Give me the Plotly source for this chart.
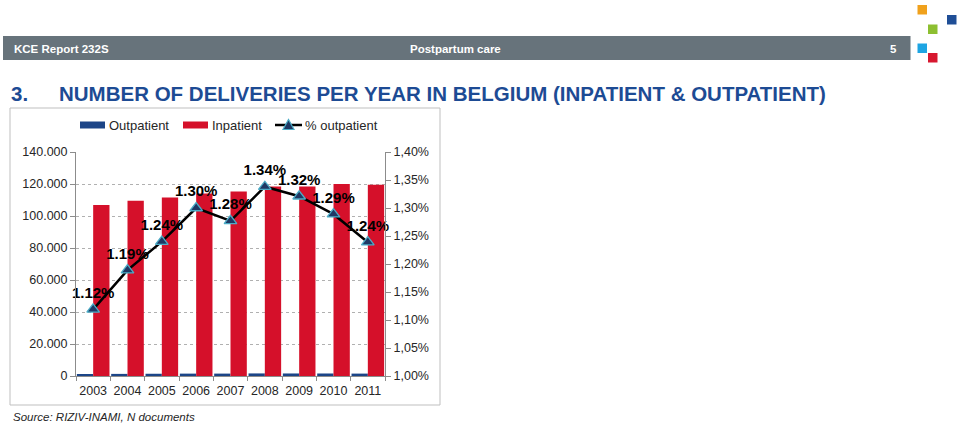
import plotly.graph_objects as go

# ---------------- data ----------------
years = ["2003", "2004", "2005", "2006", "2007", "2008", "2009", "2010", "2011"]
inpatient = [106800, 109500, 111500, 114000, 115300, 118400, 118400, 120000, 119600]
outpatient = [1210, 1320, 1400, 1490, 1500, 1610, 1580, 1570, 1500]
pct_outpatient = [1.119, 1.189, 1.240, 1.300, 1.277, 1.338, 1.321, 1.289, 1.239]

left_tickvals = [0, 20000, 40000, 60000, 80000, 100000, 120000, 140000]
left_ticktext = ["0", "20.000", "40.000", "60.000", "80.000", "100.000", "120.000", "140.000"]
right_tickvals = [1.00, 1.05, 1.10, 1.15, 1.20, 1.25, 1.30, 1.35, 1.40]
right_ticktext = ["1,00%", "1,05%", "1,10%", "1,15%", "1,20%", "1,25%", "1,30%", "1,35%", "1,40%"]

# ---------------- layout geometry (pixels) ----------------
W, H = 960, 424
L, R, T, B = 76, 385, 152, 376
PW, PH = R - L, B - T


def px(x):
    return (x - L) / PW


def py(y):
    return (B - y) / PH


FONT = "Liberation Sans, Arial, sans-serif"
BLUE = "#1c4587"
RED = "#d5102a"
AXIS = "#8c8c8c"
TXT = "#262626"

fig = go.Figure()
fig.add_trace(go.Bar(x=years, y=outpatient, name="Outpatient", marker=dict(color=BLUE, line=dict(width=0))))
fig.add_trace(go.Bar(x=years, y=inpatient, name="Inpatient", marker=dict(color=RED, line=dict(width=0))))
fig.add_trace(go.Scatter(
    x=years, y=pct_outpatient, yaxis="y2", name="% outpatient",
    mode="lines+markers+text",
    line=dict(color="black", width=2.5),
    marker=dict(symbol="triangle-up", size=11, color="#1f3864", line=dict(color="#4bacc6", width=1.3)),
    text=[f"{v:.2f}%" for v in pct_outpatient],
    textposition="top center",
    textfont=dict(family=FONT, size=15, color="black", weight="bold"),
    cliponaxis=False,
))

shapes = []
annotations = []

# header bar
shapes.append(dict(type="rect", xref="paper", yref="paper", x0=px(3), x1=px(910.5), y0=py(60), y1=py(36),
                   fillcolor="#67737b", line=dict(width=0), layer="above"))
for txt, x, anchor in [("KCE Report 232S", 12, "left"), ("Postpartum care", 408, "left"), ("5", 893, "center")]:
    annotations.append(dict(text=txt, xref="paper", yref="paper", x=px(x), y=py(48.5), xanchor=anchor,
                            yanchor="middle", showarrow=False,
                            font=dict(family=FONT, size=11.5, color="white", weight="bold")))

# logo squares
for (x0, y0, c) in [(917.5, 5, "#f0a11c"), (947, 15, "#1f4e96"), (928, 24.5, "#8dbf31"),
                    (917.5, 43.5, "#1ea5e3"), (928, 53, "#d7172f")]:
    shapes.append(dict(type="rect", xref="paper", yref="paper", x0=px(x0), x1=px(x0 + 9.5),
                       y0=py(y0 + 9.5), y1=py(y0), fillcolor=c, line=dict(width=0), layer="above"))

# title
TITLE_C = "#1d4b94"
annotations.append(dict(text="3.", xref="paper", yref="paper", x=px(9), y=py(93.5), xanchor="left",
                        yanchor="middle", showarrow=False,
                        font=dict(family=FONT, size=20.5, color=TITLE_C, weight="bold")))
annotations.append(dict(text="NUMBER OF DELIVERIES PER YEAR IN BELGIUM (INPATIENT &amp; OUTPATIENT)",
                        xref="paper", yref="paper", x=px(57), y=py(93.5), xanchor="left",
                        yanchor="middle", showarrow=False,
                        font=dict(family=FONT, size=20.5, color=TITLE_C, weight="bold")))

# chart frame
shapes.append(dict(type="rect", xref="paper", yref="paper", x0=px(10), x1=px(440), y0=py(405), y1=py(108),
                   line=dict(color="#bfbfbf", width=1), fillcolor="rgba(0,0,0,0)", layer="below"))

# manual legend
LY = 125
shapes.append(dict(type="rect", xref="paper", yref="paper", x0=px(80), x1=px(105), y0=py(LY + 3.5),
                   y1=py(LY - 3.5), fillcolor=BLUE, line=dict(width=0)))
annotations.append(dict(text="Outpatient", xref="paper", yref="paper", x=px(106.5), y=py(LY), xanchor="left",
                        yanchor="middle", showarrow=False, font=dict(family=FONT, size=13, color=TXT)))
shapes.append(dict(type="rect", xref="paper", yref="paper", x0=px(183), x1=px(208), y0=py(LY + 3.5),
                   y1=py(LY - 3.5), fillcolor=RED, line=dict(width=0)))
annotations.append(dict(text="Inpatient", xref="paper", yref="paper", x=px(209.5), y=py(LY), xanchor="left",
                        yanchor="middle", showarrow=False, font=dict(family=FONT, size=13, color=TXT)))
shapes.append(dict(type="line", xref="paper", yref="paper", x0=px(275), x1=px(302), y0=py(LY), y1=py(LY),
                   line=dict(color="black", width=2.5)))
shapes.append(dict(type="path", xref="paper", yref="paper",
                   path=f"M {px(283)} {py(LY + 4.5)} L {px(294)} {py(LY + 4.5)} L {px(288.5)} {py(LY - 5.5)} Z",
                   fillcolor="#1f3864", line=dict(color="#4bacc6", width=1.2)))
annotations.append(dict(text="% outpatient", xref="paper", yref="paper", x=px(303), y=py(LY), xanchor="left",
                        yanchor="middle", showarrow=False, font=dict(family=FONT, size=13, color=TXT)))

# source
annotations.append(dict(text="<i>Source: RIZIV-INAMI, N documents</i>", xref="paper", yref="paper",
                        x=px(11), y=py(417), xanchor="left", yanchor="middle", showarrow=False,
                        font=dict(family=FONT, size=11.5, color=TXT)))

fig.update_layout(
    width=W, height=H,
    margin=dict(l=L, r=W - R, t=T, b=H - B, pad=0),
    paper_bgcolor="white", plot_bgcolor="white",
    barmode="group", bargap=0.05, bargroupgap=0,
    showlegend=False,
    font=dict(family=FONT, size=12.5, color=TXT),
    xaxis=dict(type="category", range=[-0.5, 8.5], showline=True, linecolor=AXIS, linewidth=1,
               ticks="outside", tickson="boundaries", ticklen=4, tickcolor=AXIS, tickangle=0,
               ticklabelstandoff=3,
               tickfont=dict(size=12.5, color=TXT), showgrid=False, zeroline=False),
    yaxis=dict(range=[0, 140000], tickvals=left_tickvals, ticktext=left_ticktext,
               showline=True, linecolor=AXIS, linewidth=1, ticks="outside", ticklen=5, tickcolor=AXIS,
               showgrid=True, gridcolor="#b0b0b0", griddash="dot", gridwidth=1, zeroline=False,
               tickfont=dict(size=12.5, color=TXT)),
    yaxis2=dict(range=[1.0, 1.4], tickvals=right_tickvals, ticktext=right_ticktext, overlaying="y",
                side="right", showline=True, linecolor=AXIS, linewidth=1, ticks="outside", ticklen=5,
                tickcolor=AXIS, showgrid=False, zeroline=False, tickfont=dict(size=12.5, color=TXT)),
    shapes=shapes,
    annotations=annotations,
)

fig.write_html("out.html", config={"displayModeBar": False},
               post_script="document.body.style.margin='0px';document.body.style.overflow='hidden';")
